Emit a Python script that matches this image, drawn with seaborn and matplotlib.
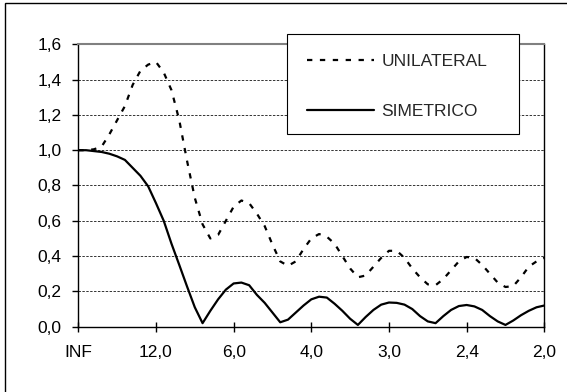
import numpy as np
import pandas as pd
import matplotlib
matplotlib.use("Agg")
import matplotlib.pyplot as plt
import matplotlib.patches as mpatches
from matplotlib.lines import Line2D
import seaborn as sns

# ---- data ----
tick_labels = ["INF", "12,0", "6,0", "4,0", "3,0", "2,4", "2,0"]
points_per_label = 10

unilateral = [1.00, 1.00, 1.005, 1.02, 1.09, 1.17, 1.25, 1.37, 1.45, 1.485,
              1.50, 1.44, 1.34, 1.17, 0.94, 0.73, 0.58, 0.50, 0.52, 0.60,
              0.68, 0.715, 0.70, 0.64, 0.57, 0.465, 0.37, 0.345, 0.37, 0.44,
              0.50, 0.525, 0.51, 0.47, 0.40, 0.33, 0.28, 0.29, 0.34, 0.39,
              0.43, 0.43, 0.39, 0.33, 0.28, 0.24, 0.235, 0.27, 0.32, 0.37,
              0.395, 0.39, 0.35, 0.30, 0.25, 0.225, 0.23, 0.28, 0.34, 0.37,
              0.39]
simetrico = [1.00, 1.00, 0.995, 0.99, 0.98, 0.965, 0.945, 0.90, 0.855, 0.795,
             0.70, 0.60, 0.47, 0.35, 0.228, 0.11, 0.02, 0.09, 0.155, 0.21,
             0.245, 0.25, 0.235, 0.18, 0.135, 0.08, 0.025, 0.04, 0.08, 0.12,
             0.155, 0.17, 0.165, 0.13, 0.09, 0.045, 0.01, 0.055, 0.095, 0.125,
             0.137, 0.135, 0.125, 0.10, 0.06, 0.03, 0.02, 0.06, 0.095, 0.117,
             0.123, 0.115, 0.095, 0.06, 0.03, 0.01, 0.035, 0.065, 0.09, 0.11,
             0.12]
series_names = ["UNILATERAL", "SIMETRICO"]

idx = np.arange(len(unilateral))
df = pd.DataFrame({"idx": np.concatenate([idx, idx]),
                   "valor": unilateral + simetrico,
                   "serie": [series_names[0]] * len(idx) + [series_names[1]] * len(idx)})

sns.set_style("white")
plt.rcParams["font.family"] = ["Liberation Sans", "DejaVu Sans"]

FS = 12.5
W, H = 567, 392
fig = plt.figure(figsize=(W / 100, H / 100), dpi=100)
ax = fig.add_axes([78.3 / W, 1 - 326.7 / H, (544.3 - 78.3) / W, (326.7 - 44.3) / H])

DASH = (0, (2.4, 3.4))
sns.lineplot(data=df, x="idx", y="valor", hue="serie", style="serie",
             palette={series_names[0]: "black", series_names[1]: "black"},
             dashes={series_names[0]: DASH[1], series_names[1]: ""},
             linewidth=1.6, ax=ax, legend=False)

ax.set_xlim(0, len(idx) - 1)
ax.set_ylim(0, 1.6)
yt = np.arange(0, 1.61, 0.2)
ax.set_yticks(yt)
ax.set_yticklabels([f"{v:.1f}".replace(".", ",") for v in yt])
ax.set_xticks(np.arange(0, len(idx), points_per_label))
ax.set_xticklabels(tick_labels)
ax.set_xlabel("")
ax.set_ylabel("")

for yv in np.arange(0.2, 1.5, 0.2):
    ax.axhline(yv, color="#333333", lw=0.7, ls=(0, (2.5, 1.5)), zorder=0)

for s in ["left", "bottom", "right"]:
    ax.spines[s].set_color("black")
    ax.spines[s].set_linewidth(1.0)
ax.spines["top"].set_color("#808080")
ax.spines["top"].set_linewidth(1.5)

ax.tick_params(axis="y", direction="out", length=4, width=1, colors="black",
               labelsize=FS, pad=8, left=True)
ax.tick_params(axis="x", direction="inout", length=7.5, width=1, colors="black",
               labelsize=FS, pad=9.5, bottom=True)

# legend box (fixed size) + legend content
box = mpatches.Rectangle((286.7 / W, 1 - 134.3 / H), 232 / W, 100 / H,
                         transform=fig.transFigure, facecolor="white",
                         edgecolor="black", lw=0.8, zorder=9, clip_on=False)
ax.add_patch(box)

handles = [Line2D([], [], color="black", lw=1.6, ls=DASH),
           Line2D([], [], color="black", lw=1.6)]
leg = ax.legend(handles, series_names, loc="upper left",
                bbox_to_anchor=(286.7 / W, 1 - 34.3 / H),
                bbox_transform=fig.transFigure,
                frameon=False, fontsize=FS, handlelength=3.9, handletextpad=0.4,
                borderpad=1.15, labelspacing=2.0, borderaxespad=0)
leg.set_zorder(10)

fig.patches.append(mpatches.Rectangle((5 / W, -0.1), 1.2, 1.1 - 3 / H,
                                      transform=fig.transFigure, fill=False,
                                      edgecolor="black", lw=1.0))

fig.savefig("out.png", dpi=100)
